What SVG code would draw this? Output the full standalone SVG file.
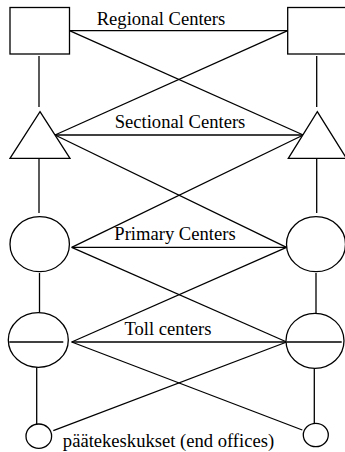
<svg xmlns="http://www.w3.org/2000/svg" width="345" height="452" viewBox="0 0 345 452">
<style>
.s{fill:#fff;stroke:#000;stroke-width:1.3}
.c line{stroke:#000;stroke-width:1.3}
.t{font-family:"Liberation Serif","Times New Roman",serif;font-size:18.6px;fill:#000;text-anchor:middle}
</style>
<rect width="345" height="452" fill="#fff"/>
<g class="c" id="connectors">
<line x1="69.5" y1="30.7" x2="287.7" y2="30.7"/>
<line x1="69.5" y1="30.7" x2="303.3" y2="135"/>
<line x1="287.7" y1="30.7" x2="55" y2="135"/>
<line x1="39" y1="56" x2="39" y2="107"/>
<line x1="316.7" y1="56" x2="316.7" y2="107"/>
<line x1="55" y1="135" x2="303.3" y2="135"/>
<line x1="55" y1="135" x2="286.5" y2="247.3"/>
<line x1="303.3" y1="135" x2="71.7" y2="247.3"/>
<line x1="39" y1="158.3" x2="39" y2="213"/>
<line x1="316.7" y1="158.3" x2="316.7" y2="213"/>
<line x1="71.7" y1="247.3" x2="286.5" y2="247.3"/>
<line x1="71.7" y1="247.3" x2="286.7" y2="342"/>
<line x1="286.5" y1="247.3" x2="71.7" y2="342"/>
<line x1="39.5" y1="273" x2="39.5" y2="312.7"/>
<line x1="316" y1="273" x2="316" y2="313.3"/>
<line x1="71.7" y1="342" x2="286.7" y2="342"/>
<line x1="71.7" y1="342" x2="302.3" y2="430"/>
<line x1="286.7" y1="342" x2="53.3" y2="430.7"/>
<line x1="36.7" y1="367.3" x2="36.7" y2="424"/>
<line x1="314.3" y1="368.3" x2="314.3" y2="423.3"/>
</g>
<g id="regional-left"><rect class="s" x="10" y="7.5" width="59.5" height="46.5"/></g>
<g id="regional-right"><rect class="s" x="287.7" y="7.5" width="60" height="46.5"/></g>
<g id="sectional-left"><polygon class="s" points="40,111.7 70,158.3 10,158.3"/></g>
<g id="sectional-right"><polygon class="s" points="317.3,111.7 346.5,158.3 288.3,158.3"/></g>
<g id="primary-left"><ellipse class="s" cx="39.7" cy="244.2" rx="29.7" ry="27.5"/></g>
<g id="primary-right"><ellipse class="s" cx="316" cy="244.2" rx="29.5" ry="27.5"/></g>
<g id="toll-left"><ellipse class="s" cx="38.3" cy="340" rx="30" ry="27.3"/><line x1="9.3" y1="342" x2="63.3" y2="342" stroke="#000" stroke-width="1.3"/></g>
<g id="toll-right"><ellipse class="s" cx="315" cy="340.8" rx="29" ry="27.5"/><line x1="286.7" y1="342" x2="341.7" y2="342" stroke="#000" stroke-width="1.3"/></g>
<g id="end-left"><ellipse class="s" cx="38.8" cy="436.2" rx="12.8" ry="12.2"/></g>
<g id="end-right"><ellipse class="s" cx="315.8" cy="435" rx="12.5" ry="11.7"/></g>
<g id="labels">
<text class="t" x="161" y="25">Regional Centers</text>
<text class="t" x="180" y="128">Sectional Centers</text>
<text class="t" x="175" y="240">Primary Centers</text>
<text class="t" x="168" y="335">Toll centers</text>
<text class="t" x="168.5" y="446.5">päätekeskukset (end offices)</text>
</g>
</svg>
